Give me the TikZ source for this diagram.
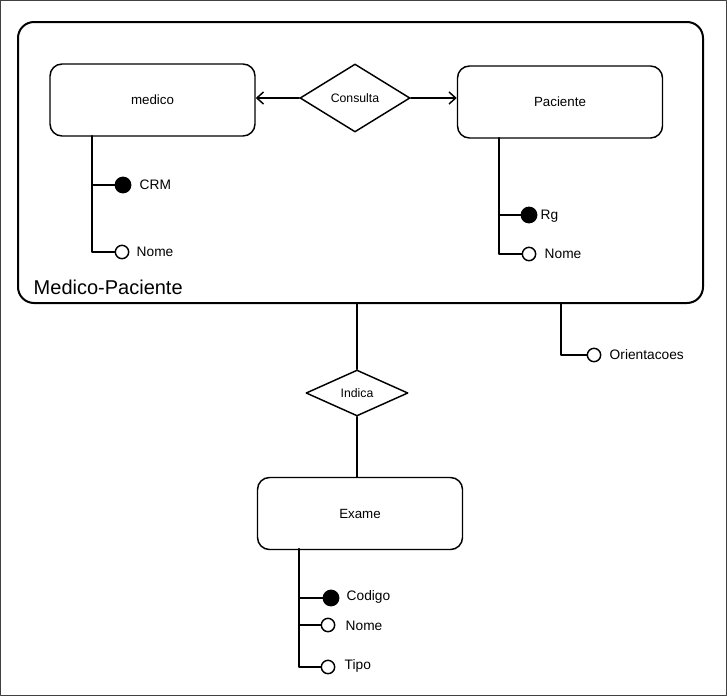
\documentclass[tikz,border=0pt]{standalone}
\usepackage{fontspec}
\setmainfont{Liberation Sans}
\usetikzlibrary{shapes.geometric,arrows.meta}
\begin{document}
\begin{tikzpicture}[x=0.75pt,y=-0.75pt,
  line width=1.1pt, line join=round, line cap=round,
  entity/.style={draw, rounded corners=9pt, minimum width=153.75pt, minimum height=54pt, inner sep=0pt, font=\fontsize{10}{12}\selectfont},
  rel/.style={draw, diamond, inner sep=0pt, font=\fontsize{9.2}{11}\selectfont},
  keyattr/.style={draw, fill=black, circle, minimum size=11.5pt, inner sep=0pt},
  attr/.style={draw, fill=white, circle, minimum size=10pt, inner sep=0pt},
  lbl/.style={anchor=west, inner sep=0pt, font=\fontsize{10.3}{12}\selectfont},
  arr/.style={-{Straight Barb[length=5pt,width=9pt]}}
]
\useasboundingbox (0,0) rectangle (727,696);
\draw[line width=1pt, black!75] (0.7,0.7) rectangle (726.3,695.3);

% group box
\node[draw, line width=1.5pt, rounded corners=12pt, minimum width=513.75pt, minimum height=210.75pt, inner sep=0pt] (grp) at (360.5,162.5) {};
\node[anchor=west, inner sep=0pt, font=\fontsize{15}{18}\selectfont] (grplbl) at (33,287) {Medico-Paciente};

% entities
\node[entity] (medico) at (152.5,100) {medico};
\node[entity] (paciente) at (560,102) {Paciente};
\node[entity] (exame) at (360,513.5) {Exame};

% relationships
\node[rel, minimum width=82.5pt, minimum height=51pt] (consulta) at (355,98) {Consulta};
\node[rel, minimum width=76.5pt, minimum height=34.5pt] (indica) at (357,393) {Indica};

\draw[arr] (consulta.west) -- (consulta.west -| medico.east);
\draw[arr] (consulta.east) -- (consulta.east -| paciente.west);

% medico attributes
\coordinate (mtop) at (92,136);
\node[keyattr] (crm) at (123,185) {};
\node[lbl] (crmlbl) at (139,185) {CRM};
\node[attr] (mnome) at (122,252) {};
\node[lbl] (mnomelbl) at (136,252) {Nome};
\draw (mtop) |- (crm);
\draw (mtop) |- (mnome);

% paciente attributes
\coordinate (ptop) at (499,138);
\node[keyattr] (rg) at (529,215) {};
\node[lbl] (rglbl) at (540,216) {Rg};
\node[attr] (pnome) at (529,254) {};
\node[lbl] (pnomelbl) at (544,254) {Nome};
\draw (ptop) |- (rg);
\draw (ptop) |- (pnome);

% orientacoes
\coordinate (otop) at (561,303);
\node[attr] (orient) at (594,355) {};
\node[lbl] (orientlbl) at (609,355) {Orientacoes};
\draw (otop) |- (orient);

% indica connections
\draw (grp.south -| indica.north) -- (indica.north);
\draw (indica.south) -- (exame.north -| indica.south);

% exame attributes
\coordinate (etop) at (299,549);
\node[keyattr] (codigo) at (331,598) {};
\node[lbl] (codigolbl) at (346,597) {Codigo};
\node[attr] (enome) at (328,625) {};
\node[lbl] (enomelbl) at (345,626) {Nome};
\node[attr] (tipo) at (328,667) {};
\node[lbl] (tipolbl) at (344,666) {Tipo};
\draw (etop) |- (codigo);
\draw (etop) |- (enome);
\draw (etop) |- (tipo);
\end{tikzpicture}
\end{document}
